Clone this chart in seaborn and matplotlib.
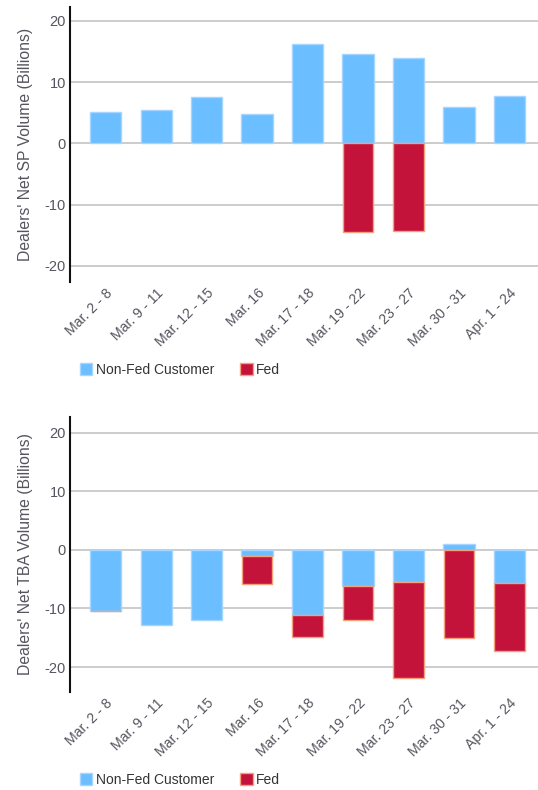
import matplotlib
matplotlib.use("Agg")
import matplotlib.pyplot as plt
import matplotlib.patches as mpatches
import seaborn as sns
import pandas as pd
import numpy as np

categories = ["Mar. 2 - 8", "Mar. 9 - 11", "Mar. 12 - 15", "Mar. 16", "Mar. 17 - 18",
              "Mar. 19 - 22", "Mar. 23 - 27", "Mar. 30 - 31", "Apr. 1 - 24"]

sp_nonfed = [5.1, 5.4, 7.5, 4.7, 16.2, 14.5, 14.0, 6.0, 7.7]
sp_fed = [0.0, 0.0, 0.0, 0.0, 0.0, -14.5, -14.3, 0.0, 0.0]

tba_nonfed = [-10.4, -12.8, -12.0, -1.0, -11.2, -6.1, -5.5, 1.0, -5.7]
tba_fed = [-0.1, 0.0, 0.0, -4.9, -3.6, -5.9, -16.3, -15.0, -11.6]

yticks = [-20, -10, 0, 10, 20]
ylabels = ["Dealers' Net SP Volume (Billions)", "Dealers' Net TBA Volume (Billions)"]
series_names = ["Non-Fed Customer", "Fed"]

sns.set_theme(style="white")
plt.rcParams["font.family"] = ["Liberation Sans", "DejaVu Sans"]

NONFED_C = "#6BBEFF"
NONFED_E = "#A6D6FF"
FED_C = "#C3133A"
FED_E = "#F4A07C"
TEXT_C = "#55555f"

fig = plt.figure(figsize=(5.38, 7.9), dpi=100)
ax1 = fig.add_axes([0.130, 0.6434, 0.875, 0.3474])
ax2 = fig.add_axes([0.130, 0.1244, 0.875, 0.3474])


def draw(ax, nonfed, fed, ylim, ylabel, legend_y):
    df = pd.DataFrame({"cat": categories, "nonfed": nonfed, "fed": fed})
    # Fed segment stacks below the negative part of non-fed
    base = [min(v, 0.0) for v in nonfed]
    for y in yticks:
        ax.axhline(y, color="#c8c8c8", lw=1.3, zorder=0)
    sns.barplot(data=df, x="cat", y="nonfed", order=categories, color=NONFED_C,
                saturation=1, width=0.62, edgecolor=NONFED_E, linewidth=1.0,
                ax=ax, zorder=2)
    n_before = len(ax.patches)
    sns.barplot(data=df, x="cat", y="fed", order=categories, color=FED_C,
                saturation=1, width=0.6, edgecolor=FED_E, linewidth=1.0,
                bottom=base, ax=ax, zorder=3)
    for p in ax.patches[n_before:]:
        if abs(p.get_height()) < 1e-9:
            p.set_visible(False)
    ax.set_ylim(*ylim)
    ax.set_xlim(-0.71, 8.62)
    ax.set_yticks(yticks)
    ax.set_yticklabels([str(t) for t in yticks], fontsize=10.5, color=TEXT_C)
    ax.tick_params(axis="both", length=0, pad=3)
    ax.set_xticks(range(len(categories)))
    ax.set_xticklabels(categories, rotation=45, ha="right", rotation_mode="anchor",
                       fontsize=10.2, color=TEXT_C)
    ax.set_xlabel("")
    ax.set_ylabel(ylabel, fontsize=11.3, color=TEXT_C, labelpad=8)
    for s in ["top", "right", "bottom"]:
        ax.spines[s].set_visible(False)
    ax.spines["left"].set_color("#111111")
    ax.spines["left"].set_linewidth(1.5)
    handles = [mpatches.Patch(facecolor=NONFED_C, edgecolor=NONFED_E, label=series_names[0]),
               mpatches.Patch(facecolor=FED_C, edgecolor=FED_E, label=series_names[1])]
    fig.legend(handles=handles, loc="center left", bbox_to_anchor=(0.135, legend_y),
               ncol=2, frameon=False, fontsize=10, handlelength=0.9, handleheight=1.0,
               handletextpad=0.25, columnspacing=1.9, borderpad=0, labelcolor="#333333")


draw(ax1, sp_nonfed, sp_fed, (-22.6, 22.2), ylabels[0], 1 - 369.7 / 790)
draw(ax2, tba_nonfed, tba_fed, (-24.2, 22.6), ylabels[1], 1 - 779.5 / 790)

fig.savefig("out.png", dpi=100)
